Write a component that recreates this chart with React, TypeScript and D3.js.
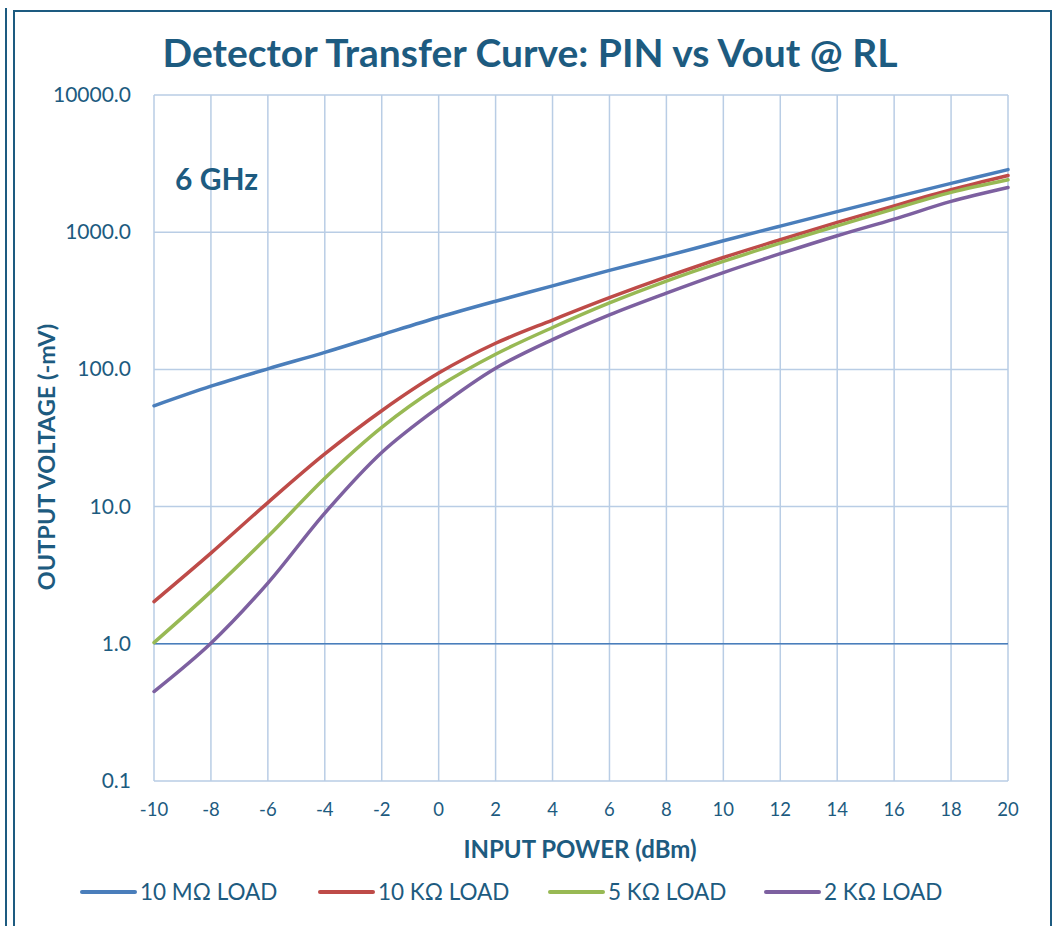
import React from "react";
import * as d3 from "d3";

const inputPower = [-10, -8, -6, -4, -2, 0, 2, 4, 6, 8, 10, 12, 14, 16, 18, 20];
const load10M = [54.3, 75.5, 101, 133, 179, 240, 314, 406, 527, 672, 866, 1108, 1413, 1795, 2270, 2857];
const load10K = [2.03, 4.58, 10.7, 24.2, 50, 94, 155, 229, 333, 472, 654, 881, 1178, 1557, 2037, 2590];
const load5K = [1.02, 2.4, 6.05, 16.1, 37.8, 75, 129, 202, 305, 440, 612, 832, 1113, 1480, 1950, 2410];
const load2K = [0.449, 1.01, 2.77, 8.97, 24.8, 53, 102, 165, 250, 360, 508, 697, 942, 1245, 1676, 2117];

const seriesNames = ["10 MΩ LOAD", "10 KΩ LOAD", "5 KΩ LOAD", "2 KΩ LOAD"];
const seriesColors = ["#4A7EBB", "#BE4B48", "#98B954", "#7D60A0"];
const seriesValues = [load10M, load10K, load5K, load2K];

const yTicks = [0.1, 1, 10, 100, 1000, 10000];
const xTicks = [-10, -8, -6, -4, -2, 0, 2, 4, 6, 8, 10, 12, 14, 16, 18, 20];

const titleText = "Detector Transfer Curve: PIN vs Vout @ RL";
const freqText = "6 GHz";
const xTitle = "INPUT POWER (dBm)";
const yTitle = "OUTPUT VOLTAGE (-mV)";

const legendLineX = [82, 320, 550, 766];

export default function App() {
  const W = 1055, H = 926;
  const left = 154, right = 1008, top = 95, bottom = 781;
  const x = d3.scaleLinear().domain([-10, 20]).range([left, right]);
  const y = d3.scaleLog().domain([0.1, 10000]).range([bottom, top]);
  const textColor = "#1D5B80";
  const font = "Lato, 'Open Sans', sans-serif";
  const gridColor = "#B9CDE5";

  const line = d3
    .line<[number, number]>()
    .x((d) => x(d[0]))
    .y((d) => y(d[1]))
    .curve(d3.curveCatmullRom.alpha(0.5));

  return (
    <svg
      width={W}
      height={H}
      style={{ position: "absolute", left: 0, top: 0, background: "#fff" }}
      fontFamily={font}
    >
      <rect x={0} y={0} width={W} height={H} fill="#fff" />
      {/* borders */}
      <line x1={6} y1={8} x2={6} y2={H} stroke={textColor} strokeWidth={2} />
      <path d={`M14,${H} L14,11 L1051,11 L1051,${H}`} fill="none" stroke={textColor} strokeWidth={2} />

      {/* title */}
      <text x={530} y={67} textAnchor="middle" fontSize={39} fontWeight="bold" fill={textColor}>
        {titleText}
      </text>

      {/* grid */}
      {xTicks.map((t) => (
        <line key={"gx" + t} x1={x(t)} x2={x(t)} y1={top} y2={bottom} stroke={gridColor} strokeWidth={1.5} />
      ))}
      {yTicks.map((t) => (
        <line key={"gy" + t} x1={left} x2={right} y1={y(t)} y2={y(t)} stroke={gridColor} strokeWidth={1.5} />
      ))}
      {/* axis at 1.0 */}
      <line x1={left} x2={right} y1={y(1)} y2={y(1)} stroke="#4A7EBB" strokeWidth={1.5} />

      {/* y tick labels */}
      {yTicks.map((t) => (
        <text key={"yl" + t} x={131} y={y(t) + 7} textAnchor="end" fontSize={21} fill={textColor}>
          {t.toFixed(1)}
        </text>
      ))}
      {/* x tick labels */}
      {xTicks.map((t) => (
        <text key={"xl" + t} x={x(t)} y={816} textAnchor="middle" fontSize={18.5} fill={textColor}>
          {t}
        </text>
      ))}

      {/* series */}
      {seriesValues.map((vals, i) => (
        <path
          key={"s" + i}
          d={line(inputPower.map((p, j) => [p, vals[j]] as [number, number])) || ""}
          fill="none"
          stroke={seriesColors[i]}
          strokeWidth={3.5}
          strokeLinecap="round"
        />
      ))}

      {/* frequency label */}
      <text x={175} y={190} fontSize={30} fontWeight="bold" fill={textColor}>
        {freqText}
      </text>

      {/* axis titles */}
      <text x={580} y={858} textAnchor="middle" fontSize={24} fontWeight="bold" fill={textColor}>
        {xTitle}
      </text>
      <text
        transform={`translate(55,457) rotate(-90)`}
        textAnchor="middle"
        fontSize={23.5}
        fontWeight="bold"
        fill={textColor}
      >
        {yTitle}
      </text>

      {/* legend */}
      {seriesNames.map((n, i) => (
        <g key={"lg" + i}>
          <line
            x1={legendLineX[i]}
            x2={legendLineX[i] + 53}
            y1={892}
            y2={892}
            stroke={seriesColors[i]}
            strokeWidth={4}
            strokeLinecap="round"
          />
          <text x={legendLineX[i] + 58} y={900} fontSize={22.5} fill={textColor}>
            {n}
          </text>
        </g>
      ))}
    </svg>
  );
}
